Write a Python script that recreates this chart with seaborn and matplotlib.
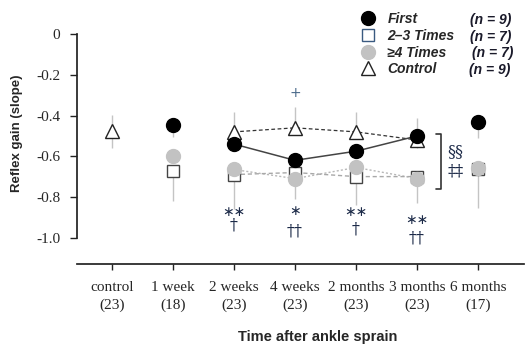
import numpy as np
import pandas as pd
import matplotlib
matplotlib.use("Agg")
import matplotlib.pyplot as plt
from matplotlib.lines import Line2D
import seaborn as sns

nan = np.nan
categories = ["control", "1 week", "2 weeks", "4 weeks", "2 months", "3 months", "6 months"]
n_subjects = [23, 18, 23, 23, 23, 23, 17]

first = [nan, -0.445, -0.54, -0.62, -0.575, -0.50, -0.43]
times23 = [nan, -0.67, -0.69, -0.68, -0.70, -0.70, -0.665]
times4 = [nan, -0.60, -0.665, -0.71, -0.655, -0.71, -0.66]
control = [-0.478, nan, -0.48, -0.46, -0.48, -0.52, nan]

first_lo = [0, 0.06, 0, 0, 0, 0.06, 0.08]
first_hi = [0, 0, 0, 0, 0, 0.09, 0]
times23_lo = [0, 0.15, 0.17, 0, 0.14, 0, 0.19]
times23_hi = [0, 0, 0, 0, 0, 0, 0]
times4_lo = [0, 0, 0, 0.10, 0, 0.12, 0]
times4_hi = [0, 0, 0, 0, 0, 0, 0]
control_lo = [0.08, 0, 0, 0, 0, 0, 0]
control_hi = [0.08, 0, 0.10, 0.10, 0.10, 0.0, 0]

legend_labels = ["First", "2\u20133 Times", "\u22654 Times", "Control"]
legend_n = ["(n = 9)", "(n = 7)", "(n = 7)", "(n = 9)"]

sns.set_theme(style="ticks")
plt.rcParams["font.family"] = ["DejaVu Sans"]

fig = plt.figure(figsize=(5.25, 3.44), dpi=100)
ax = fig.add_axes([77/525, 1-264/344, 1-77/525-0.002, 250/344])

x = np.arange(len(categories))
df = pd.DataFrame({"x": x, "first": first, "times23": times23,
                   "times4": times4, "control": control})
seg = df[(df.x >= 2) & (df.x <= 5)]

ebc = "#c4c4c4"
for vals, lo, hi in [(first, first_lo, first_hi), (times23, times23_lo, times23_hi),
                     (times4, times4_lo, times4_hi), (control, control_lo, control_hi)]:
    v = np.array(vals, dtype=float)
    ax.errorbar(x, v, yerr=[lo, hi], fmt="none", ecolor=ebc, elinewidth=1.0, capsize=0, zorder=1)

sns.lineplot(data=seg, x="x", y="times4", ax=ax, color="#b8b8b8", lw=1.0,
             linestyle=(0, (1.5, 1.5)), zorder=2)
sns.lineplot(data=seg, x="x", y="times23", ax=ax, color="#a8a8a8", lw=1.0,
             linestyle=(0, (3, 2)), zorder=2)
sns.lineplot(data=seg, x="x", y="control", ax=ax, color="#333333", lw=0.9,
             linestyle=(0, (3, 2)), zorder=2)
sns.lineplot(data=seg, x="x", y="first", ax=ax, color="#444444", lw=1.1, zorder=2)

ax.plot(x, times23, ls="none", marker="s", ms=9, mfc="white", mec="#444444", mew=1.0, zorder=3)
ax.plot(x, times4, ls="none", marker="o", ms=10, mfc="#c2c2c2", mec="#c2c2c2", zorder=4)
ax.plot(x, control, ls="none", marker="^", ms=10, mfc="white", mec="#222222", mew=1.0, zorder=3)
ax.plot(x, first, ls="none", marker="o", ms=10, mfc="black", mec="black", zorder=5)

# significance annotations
sig = "#1c2a48"
sfont = dict(ha="center", va="center", color=sig, fontsize=11.5, family="DejaVu Serif")
afont = dict(ha="center", va="center", color=sig, fontsize=10, family="DejaVu Sans")
ax.text(2, -0.872, "\u2217\u2217", **afont)
ax.text(2, -0.94, "\u2020", **sfont)
ax.text(3, -0.868, "\u2217", **afont)
ax.text(3, -0.966, "\u2020\u2020", **sfont)
ax.text(4, -0.872, "\u2217\u2217", **afont)
ax.text(4, -0.956, "\u2020", **sfont)
ax.text(5, -0.915, "\u2217\u2217", **afont)
ax.text(5, -1.0, "\u2020\u2020", **sfont)
ax.text(3, -0.29, "+", ha="center", va="center", color="#4a6a8a", fontsize=10)
ax.plot([5.31, 5.39, 5.39, 5.31], [-0.488, -0.488, -0.759, -0.759], color="#333333", lw=1.2)
ax.text(5.63, -0.576, "\u00a7\u00a7", **sfont)
ax.text(5.63, -0.67, "\u2021\u2021", **sfont)

ax.set_xlim(-0.57, 6.75)
ax.set_ylim(-1.13, 0.1)
ax.set_yticks([0, -0.2, -0.4, -0.6, -0.8, -1.0])
ax.set_yticklabels(["0", "-0.2", "-0.4", "-0.6", "-0.8", "-1.0"], family="Liberation Serif", fontsize=11)
ax.set_xticks(x)
ax.set_xticklabels([f"{c}\n({n})" for c, n in zip(categories, n_subjects)],
                   family="Liberation Serif", fontsize=11, linespacing=1.5)
ax.tick_params(axis="y", length=5, width=1, pad=7, color="#222222")
ax.tick_params(axis="x", length=4, width=1, pad=8, color="#222222")
sns.despine(ax=ax)
ax.spines["left"].set_bounds(-1.0, 0)
ax.spines["left"].set_color("#222222")
ax.spines["bottom"].set_color("#222222")
ax.set_xlabel("Time after ankle sprain", family="Liberation Sans", fontweight="bold", fontsize=10.5)
ax.xaxis.set_label_coords(0.538, -0.265)
ax.set_ylabel("Reflex gain (slope)", family="Liberation Sans", fontweight="bold", fontsize=9.5)
ax.yaxis.set_label_coords(-0.12, 0.524)

handles = [
    Line2D([], [], ls="none", marker="o", ms=10, mfc="black", mec="black"),
    Line2D([], [], ls="none", marker="s", ms=9, mfc="white", mec="#3a5a80", mew=1.0),
    Line2D([], [], ls="none", marker="o", ms=10, mfc="#c2c2c2", mec="#c2c2c2"),
    Line2D([], [], ls="none", marker="^", ms=10, mfc="white", mec="#222222", mew=1.0),
]
leg = ax.legend(handles, legend_labels, loc="upper left", bbox_to_anchor=(361/525, 1-12/344),
                bbox_transform=fig.transFigure, frameon=False, borderpad=0, borderaxespad=0,
                handlelength=1.0, handletextpad=0.9, labelspacing=0.2,
                prop=dict(family="Liberation Sans", weight="bold", style="italic", size=10))
rows = [20, 37, 53, 70]
offs = [0, 0, 2, -1]
for r, t, o in zip(rows, legend_n, offs):
    fig.text((470 + o)/525, 1 - r/344, t, ha="left", va="center", family="Liberation Sans",
             weight="bold", style="italic", fontsize=10, color="#1a1a2a")

fig.savefig("out.png", dpi=100)
